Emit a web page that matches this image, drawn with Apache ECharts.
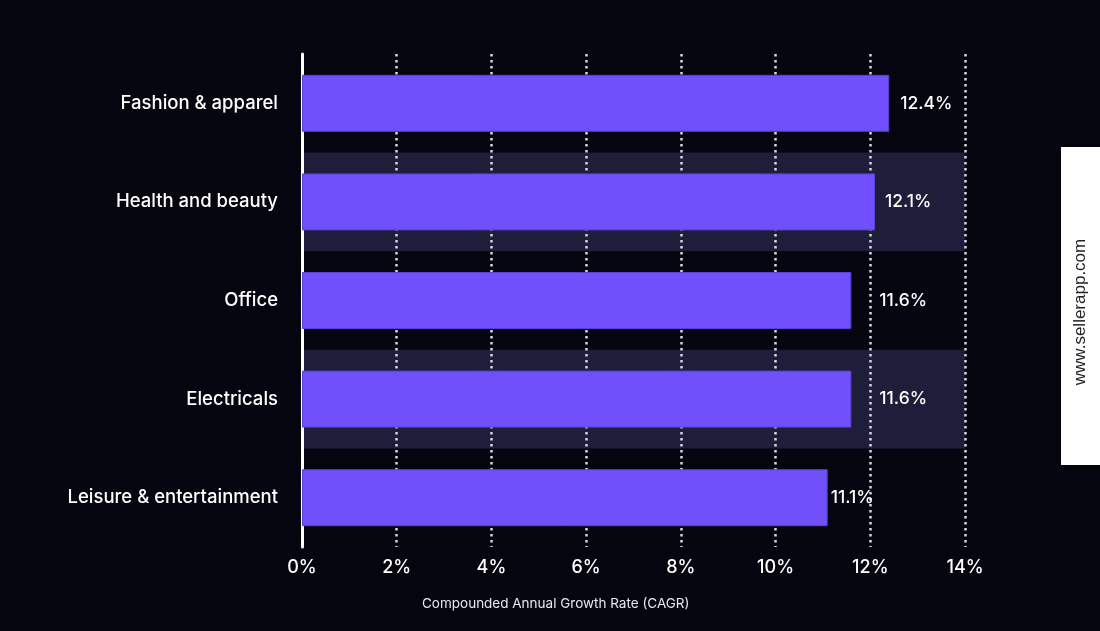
<!DOCTYPE html>
<html>
<head>
<meta charset="utf-8">
<script src="https://cdn.jsdelivr.net/npm/echarts@6/dist/echarts.min.js"></script>
<style>
html,body{margin:0;padding:0;background:#05050f;}
#c{width:1100px;height:631px;}
</style>
</head>
<body>
<div id="c"></div>
<script>
const categories = ['Fashion & apparel', 'Health and beauty', 'Office', 'Electricals', 'Leisure & entertainment'];
const cagrValues = [12.4, 12.1, 11.6, 11.6, 11.1];
const xTicks = [0, 2, 4, 6, 8, 10, 12, 14];
const axisTitle = 'Compounded Annual Growth Rate (CAGR)';
const watermark = 'www.sellerapp.com';

// label offsets from bar end (style, not data)
const labelDistances = [11, 10, 28, 28, 3];

const FONT = 'Inter, "Open Sans", sans-serif';
const chart = echarts.init(document.getElementById('c'));

const barData = cagrValues.map((v, i) => ({ value: v, label: { distance: labelDistances[i] } }));

chart.setOption({
  backgroundColor: '#05050f',
  animation: false,
  grid: { left: 302, right: 135, top: 54, bottom: 84, containLabel: false },
  xAxis: {
    type: 'value',
    min: xTicks[0],
    max: xTicks[xTicks.length - 1],
    interval: 2,
    axisLine: { show: false },
    axisTick: { show: false },
    axisLabel: {
      color: '#ffffff', fontSize: 18, fontFamily: FONT, fontWeight: 500, margin: 12,
      formatter: v => v + '%'
    },
    splitLine: {
      show: true,
      lineStyle: { color: '#d6d6de', width: 2.5, type: [2.5, 3.5] }
    }
  },
  yAxis: {
    type: 'category',
    data: categories,
    inverse: true,
    axisLine: { show: true, lineStyle: { color: '#ffffff', width: 3 } },
    axisTick: { show: false },
    axisLabel: { color: '#ffffff', fontSize: 18.5, fontFamily: FONT, fontWeight: 500, margin: 24 },
    splitLine: { show: false },
    splitArea: { show: true, areaStyle: { color: ['rgba(0,0,0,0)', '#1e1d3a'] } }
  },
  series: [{
    type: 'bar',
    data: barData,
    barWidth: 57,
    itemStyle: { color: '#6f50fa', borderColor: '#5a3fd6', borderWidth: 1 },
    label: {
      show: true, position: 'right',
      color: '#ffffff', fontSize: 17.5, fontFamily: FONT, fontWeight: 500,
      formatter: p => p.value + '%'
    },
    z: 3
  }],
  graphic: [
    {
      type: 'text', left: 422, top: 597,
      style: { text: axisTitle, fill: '#e8e8ee', fontSize: 13.5, fontFamily: FONT }
    },
    {
      type: 'rect', left: 1061, top: 147,
      shape: { width: 39, height: 318 },
      style: { fill: '#ffffff' }
    },
    {
      type: 'text', x: 1080, y: 312, rotation: Math.PI / 2,
      style: { text: watermark, fill: '#222222', fontSize: 17, fontFamily: 'Liberation Sans, Arial, sans-serif', align: 'center', verticalAlign: 'middle' }
    }
  ]
});
</script>
</body>
</html>
